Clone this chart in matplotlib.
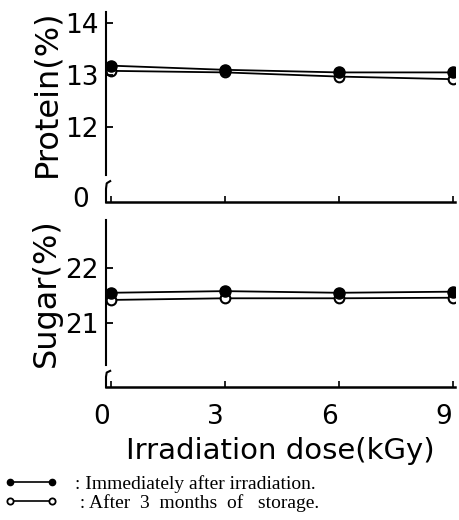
import matplotlib
matplotlib.use('Agg')
import matplotlib.pyplot as plt
import matplotlib.transforms as mtransforms
from matplotlib import font_manager
from matplotlib.lines import Line2D

# data
dose = [0, 3, 6, 9]
protein_immediate = [13.18, 13.10, 13.05, 13.05]
protein_stored = [13.08, 13.05, 12.97, 12.92]
sugar_immediate = [21.55, 21.58, 21.55, 21.57]
sugar_stored = [21.42, 21.45, 21.45, 21.46]

protein_ticks = [12, 13, 14]
sugar_ticks = [21, 22]
dose_ticks = [0, 3, 6, 9]

names = {f.name for f in font_manager.fontManager.ttflist}
sans = 'Liberation Sans Narrow' if 'Liberation Sans Narrow' in names else 'DejaVu Sans'
serif = 'Liberation Serif' if 'Liberation Serif' in names else 'DejaVu Serif'
plt.rcParams['font.family'] = sans

TICK_FS = 19
LAB_FS = 23
W, H = 460, 520
fig = plt.figure(figsize=(W / 100, H / 100), dpi=100)


def box(x0, y0, x1, y1):
    # pixel box (top-left origin) -> figure fraction rect
    return [x0 / W, 1 - y1 / H, (x1 - x0) / W, (y1 - y0) / H]


ax_p = fig.add_axes(box(106, 12, 455, 175))
ax_p0 = fig.add_axes(box(106, 180, 455, 202))
ax_s = fig.add_axes(box(106, 220, 455, 365))
ax_s0 = fig.add_axes(box(106, 370, 455, 387))

xlim = (-0.12, 9.05)

for ax in (ax_p, ax_s):
    for side in ('top', 'right', 'bottom'):
        ax.spines[side].set_visible(False)
    ax.spines['left'].set_linewidth(1.5)
    ax.set_xlim(*xlim)
    ax.set_xticks([])
    ax.tick_params(axis='y', direction='in', length=5, width=1.3,
                   labelsize=TICK_FS, pad=5)

for ax in (ax_p0, ax_s0):
    for side in ('top', 'right', 'left'):
        ax.spines[side].set_visible(False)
    ax.spines['bottom'].set_linewidth(1.8)
    ax.set_xlim(*xlim)
    ax.set_ylim(-0.3, 1)
    ax.set_xticks(dose_ticks)
    ax.tick_params(axis='x', direction='in', length=4, width=1.2,
                   labelsize=TICK_FS, pad=12)
    # axis break mark
    ax.plot([0.012, 0.002, 0.0, 0.0], [0.95, 0.85, 0.6, 0.0], color='black',
            lw=1.5, transform=ax.transAxes, clip_on=False)

ax_p0.set_yticks([0])
ax_p0.tick_params(axis='y', length=0, labelsize=TICK_FS, pad=12)
ax_p0.tick_params(axis='x', labelbottom=False)
ax_s0.set_yticks([])

# x tick labels sit a little left of their ticks in the original
shift = mtransforms.ScaledTranslation(-9 / 100, 0, fig.dpi_scale_trans)
for lab in ax_s0.get_xticklabels():
    lab.set_transform(lab.get_transform() + shift)

# protein panel
ax_p.plot(dose, protein_immediate, '-', color='black', lw=1.3,
          marker='o', ms=8, mfc='black', mec='black')
ax_p.plot(dose, protein_stored, '-', color='black', lw=1.3,
          marker='o', ms=7, mfc='white', mec='black', mew=1.5, zorder=1)
ax_p.set_ylim(11.08, 14.21)
ax_p.set_yticks(protein_ticks)
ax_p.set_ylabel('Protein(%)', fontsize=LAB_FS)
ax_p.yaxis.set_label_coords(-0.125, 0.5)

# sugar panel
ax_s.plot(dose, sugar_immediate, '-', color='black', lw=1.3,
          marker='o', ms=8, mfc='black', mec='black')
ax_s.plot(dose, sugar_stored, '-', color='black', lw=1.3,
          marker='o', ms=7, mfc='white', mec='black', mew=1.5, zorder=1)
ax_s.set_ylim(20.24, 22.87)
ax_s.set_yticks(sugar_ticks)
ax_s.set_ylabel('Sugar(%)', fontsize=LAB_FS)
ax_s.yaxis.set_label_coords(-0.125, 0.5)

ax_s0.set_xlabel('Irradiation dose(kGy)', fontsize=21, labelpad=5)

# legend
handles = [
    Line2D([], [], color='black', lw=1.2, marker='o', ms=4.5,
           mfc='black', mec='black'),
    Line2D([], [], color='black', lw=1.2, marker='o', ms=4.5,
           mfc='white', mec='black', mew=1.3),
]
labels = [': Immediately after irradiation.',
          ' : After  3  months  of   storage.']
fig.legend(handles, labels, loc='upper left', bbox_to_anchor=(0.0, 1 - 471 / H),
           frameon=False, numpoints=2, handlelength=2.75, handletextpad=0.9,
           labelspacing=0.08, borderaxespad=0, borderpad=0.2,
           prop={'family': serif, 'size': 14})

fig.savefig('out.png', dpi=100)
